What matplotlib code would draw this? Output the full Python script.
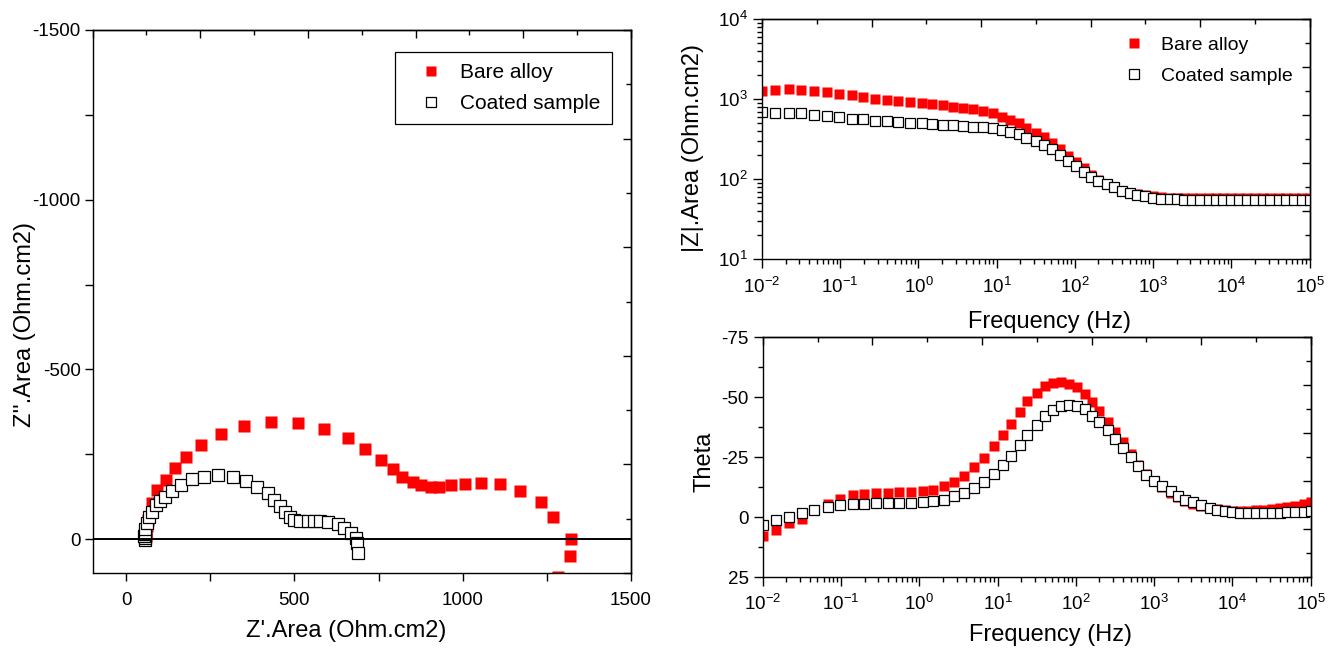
import matplotlib
matplotlib.use("Agg")
import matplotlib.pyplot as plt
from matplotlib.ticker import FixedLocator, MultipleLocator, LogLocator, NullFormatter

plt.rcParams["font.family"] = ["Liberation Sans", "DejaVu Sans"]
plt.rcParams["mathtext.fontset"] = "custom"
plt.rcParams["mathtext.rm"] = "Liberation Sans"
plt.rcParams["mathtext.default"] = "regular"
plt.rcParams["axes.unicode_minus"] = False

# ---------------- Nyquist data (Z' , Z'') ----------------
bare_zre = [56, 57, 58, 60, 62, 65, 77, 92, 119, 146, 179, 223, 283, 351, 431, 512,
            589, 658, 711, 756, 792, 821, 851, 875, 905, 931, 964, 1006, 1054, 1110,
            1170, 1232, 1268, 1321, 1318, 1283]
bare_zim = [4, -2, -10, -22, -38, -56, -106, -144, -174, -209, -242, -277, -309, -333, -345, -342,
            -324, -298, -265, -233, -206, -183, -168, -159, -153, -153, -159, -162, -165, -162,
            -141, -109, -65, 0, 50, 112]

coat_zre = [56, 55, 54, 55, 57, 62, 68, 77, 89, 101, 116, 137, 164, 196, 232, 274, 318,
            357, 390, 420, 440, 458, 473, 488, 500, 518, 539, 557, 577, 601, 628, 646,
            667, 682, 687, 690]
coat_zim = [4, -3, -9, -16, -29, -47, -65, -80, -100, -112, -124, -141, -159, -177, -183, -189,
            -183, -171, -153, -136, -115, -97, -80, -65, -56, -53, -53, -53, -53, -50, -44,
            -32, -18, -3, 12, 41]

# ---------------- Bode data ----------------
freq_hz = [0.0100, 0.0148, 0.0219, 0.0316, 0.0457, 0.0676, 0.0977, 0.141, 0.195, 0.282,
           0.398, 0.550, 0.776, 1.10, 1.51, 2.04, 2.75, 3.72, 5.01, 6.76, 8.91,
           11.7, 14.8, 19.1, 24.0, 31.6, 40.7, 51.3, 64.6, 81.3, 102, 129, 162, 200, 257,
           316, 398, 513, 631, 794, 1000, 1259, 1622, 1995, 2512, 3162, 3981, 5129, 6310,
           7943, 10000, 12589, 15849, 19953, 25119, 31623, 40738, 50119, 63096, 81283, 100000]

bare_modz = [1283, 1306, 1334, 1306, 1270, 1222, 1175, 1120, 1069, 1018, 971, 944, 917, 891,
             866, 841, 809, 786, 757, 714, 668, 607, 551, 501, 434, 383, 335, 287, 237, 196,
             166, 137, 114, 99, 88, 79, 72, 68, 65, 63, 61, 60, 59, 59, 59, 59, 59, 59, 59,
             59, 59, 59, 59, 59, 59, 59, 59, 59, 59, 59, 59]
coat_modz = [688, 681, 681, 668, 637, 618, 595, 573, 562, 541, 531, 520, 510, 501, 491, 482,
             473, 464, 455, 447, 438, 413, 394, 368, 333, 301, 268, 237, 201, 171, 147, 125,
             108, 96, 87, 79, 72, 67, 63, 61, 59, 57, 56, 56, 55, 55, 55, 55, 55, 55, 55, 55,
             55, 55, 55, 55, 55, 55, 55, 55, 55]

bare_theta = [7.9, 5.3, 2.5, 0.8, -3.1, -5.6, -7.5, -9.0, -9.7, -10.0, -10.0, -10.3, -10.4,
              -10.7, -11.4, -12.8, -14.4, -17.2, -20.7, -24.6, -29.4, -34.3, -38.9, -43.6,
              -48.2, -51.7, -54.4, -55.8, -56.3, -55.6, -54.2, -51.4, -47.8, -44.0, -39.4,
              -35.3, -31.1, -26.4, -21.8, -18.0, -15.0, -12.5, -10.2, -8.4, -6.8, -5.5, -4.6,
              -3.8, -3.2, -2.8, -2.6, -2.6, -2.6, -2.8, -2.9, -3.3, -3.8, -4.2, -4.7, -5.4, -6.1]
coat_theta = [3.5, 1.4, 0.0, -1.7, -3.1, -4.0, -4.9, -5.6, -5.6, -5.7, -5.7, -5.8, -5.8, -6.1,
              -6.5, -7.2, -8.6, -10.0, -12.1, -14.6, -18.1, -21.8, -25.6, -30.1, -34.3, -38.5,
              -42.2, -44.7, -46.4, -46.8, -46.4, -45.0, -42.2, -39.4, -36.1, -32.5, -28.8,
              -25.0, -21.1, -17.6, -14.9, -12.8, -10.7, -8.9, -7.2, -6.1, -4.9, -3.8, -3.1,
              -2.4, -1.9, -1.7, -1.5, -1.5, -1.5, -1.7, -1.8, -1.9, -2.1, -2.2, -2.4]

series_labels = ["Bare alloy", "Coated sample"]
nyq_xticks = [0, 500, 1000, 1500]
nyq_yticks = [-1500, -1000, -500, 0]
theta_ticks = [-75, -50, -25, 0, 25]

RED = "#ff0000"
TICK_FS = 13.5
LABEL_FS = 17
LEG_FS = 15

fig = plt.figure(figsize=(13.36, 6.5), dpi=100)
W, H = 1336.0, 650.0


def box(left, top, right, bottom):
    return [left / W, (H - bottom) / H, (right - left) / W, (bottom - top) / H]


def style_spines(ax):
    for s in ax.spines.values():
        s.set_linewidth(1.0)
        s.set_color("black")


def inner_ticks(ax, side, major, minor):
    """Inward ticks on the top/right frame lines, without labels."""
    if side == "top":
        sec = ax.secondary_xaxis("top")
        axis = sec.xaxis
    else:
        sec = ax.secondary_yaxis("right")
        axis = sec.yaxis
    axis.set_major_locator(FixedLocator(major))
    axis.set_minor_locator(FixedLocator(minor))
    axis.set_major_formatter(NullFormatter())
    axis.set_minor_formatter(NullFormatter())
    sec.tick_params(which="major", direction="in", length=6, width=1.0)
    sec.tick_params(which="minor", direction="in", length=3.5, width=1.0)
    for s in sec.spines.values():
        s.set_linewidth(1.0)
    return sec


# ---------------- Nyquist plot ----------------
ax_ny = fig.add_axes(box(92.5, 30, 631, 573))
ax_ny.plot(bare_zre, bare_zim, "s", color=RED, mec="none", ms=8.5, label=series_labels[0])
ax_ny.plot(coat_zre, coat_zim, "s", mfc="white", mec="black", mew=0.9, ms=8.3,
           label=series_labels[1])
ax_ny.axhline(0, color="black", lw=1.4, zorder=5)
ax_ny.set_xlim(-100, 1500)
ax_ny.set_ylim(100, -1500)
ax_ny.xaxis.set_major_locator(FixedLocator(nyq_xticks))
ax_ny.xaxis.set_minor_locator(FixedLocator([250, 750, 1250]))
ax_ny.yaxis.set_major_locator(FixedLocator(nyq_yticks))
ax_ny.yaxis.set_minor_locator(FixedLocator([-1250, -750, -250]))
ax_ny.tick_params(which="both", direction="out", length=6, width=1.0, labelsize=TICK_FS,
                  top=False, right=False)
ax_ny.tick_params(axis="x", which="both", pad=8)
ax_ny.tick_params(axis="y", which="both", pad=2.5)
ax_ny.set_xlabel("Z'.Area (Ohm.cm2)", fontsize=LABEL_FS)
ax_ny.set_ylabel("Z''.Area (Ohm.cm2)", fontsize=LABEL_FS)
ax_ny.xaxis.set_label_coords(0.471, -0.086)
ax_ny.yaxis.set_label_coords(-0.105, 0.457)
style_spines(ax_ny)
inner_ticks(ax_ny, "top", [-100 + 320 * k for k in range(6)], [60 + 320 * k for k in range(5)])
inner_ticks(ax_ny, "right", [100 - 320 * k for k in range(6)], [-60 - 320 * k for k in range(5)])
leg = ax_ny.legend(loc="upper right", bbox_to_anchor=(0.9647, 0.9595), frameon=True,
                   fancybox=False, edgecolor="black", framealpha=1, fontsize=LEG_FS,
                   markerscale=0.85, handlelength=2.3, handletextpad=0.27, borderpad=0.55,
                   labelspacing=0.55, borderaxespad=0)
leg.get_frame().set_linewidth(0.9)

# ---------------- |Z| vs frequency ----------------
ax_mod = fig.add_axes(box(762, 19.3, 1309.5, 259.3))
ax_mod.plot(freq_hz, bare_modz, "s", color=RED, mec="none", ms=7.8, label=series_labels[0])
ax_mod.plot(freq_hz, coat_modz, "s", mfc="white", mec="black", mew=0.9, ms=7.5,
            label=series_labels[1])
ax_mod.set_xscale("log")
ax_mod.set_yscale("log")
ax_mod.set_xlim(1e-2, 1e5)
ax_mod.set_ylim(1e1, 1e4)
for axis in (ax_mod.xaxis, ax_mod.yaxis):
    axis.set_major_locator(LogLocator(base=10, numticks=20))
    axis.set_minor_locator(LogLocator(base=10, subs=range(2, 10), numticks=20))
    axis.set_minor_formatter(NullFormatter())
ax_mod.tick_params(which="major", direction="out", length=6.5, width=1.0, labelsize=TICK_FS)
ax_mod.tick_params(which="minor", direction="out", length=3.5, width=1.0)
ax_mod.tick_params(axis="x", which="both", pad=6)
ax_mod.set_xlabel("Frequency (Hz)", fontsize=LABEL_FS)
ax_mod.set_ylabel("|Z|.Area (Ohm.cm2)", fontsize=LABEL_FS)
ax_mod.xaxis.set_label_coords(0.525, -0.215)
ax_mod.yaxis.set_label_coords(-0.106, 0.464)
style_spines(ax_mod)
inner_ticks(ax_mod, "top", [10 ** (-2 + 1.4 * k) for k in range(6)],
            [10 ** (-1.3 + 1.4 * k) for k in range(5)])
inner_ticks(ax_mod, "right", [10 ** (1 + 0.6 * k) for k in range(6)],
            [10 ** (1.3 + 0.6 * k) for k in range(5)])
ax_mod.legend(loc="upper right", bbox_to_anchor=(0.97, 0.928), frameon=False,
              fontsize=14, markerscale=0.9, handlelength=1.0, handletextpad=0.9,
              labelspacing=0.68, borderpad=0, borderaxespad=0)

# ---------------- Phase angle vs frequency ----------------
ax_ph = fig.add_axes(box(762.7, 337, 1310.7, 577))
ax_ph.plot(freq_hz, bare_theta, "s", color=RED, mec="none", ms=7.8)
ax_ph.plot(freq_hz, coat_theta, "s", mfc="white", mec="black", mew=0.9, ms=7.5)
ax_ph.set_xscale("log")
ax_ph.set_xlim(1e-2, 1e5)
ax_ph.set_ylim(25, -75)
ax_ph.xaxis.set_major_locator(LogLocator(base=10, numticks=20))
ax_ph.xaxis.set_minor_locator(LogLocator(base=10, subs=range(2, 10), numticks=20))
ax_ph.xaxis.set_minor_formatter(NullFormatter())
ax_ph.yaxis.set_major_locator(FixedLocator(theta_ticks))
ax_ph.yaxis.set_minor_locator(MultipleLocator(12.5))
ax_ph.tick_params(which="major", direction="out", length=6.5, width=1.0, labelsize=TICK_FS)
ax_ph.tick_params(which="minor", direction="out", length=3.5, width=1.0)
ax_ph.tick_params(axis="x", which="both", pad=6)
ax_ph.set_xlabel("Frequency (Hz)", fontsize=LABEL_FS)
ax_ph.set_ylabel("Theta", fontsize=LABEL_FS)
ax_ph.xaxis.set_label_coords(0.525, -0.195)
ax_ph.yaxis.set_label_coords(-0.087, 0.48)
style_spines(ax_ph)
inner_ticks(ax_ph, "top", [10 ** (-2 + 1.4 * k) for k in range(6)],
            [10 ** (-1.3 + 1.4 * k) for k in range(5)])
inner_ticks(ax_ph, "right", [25 - 20 * k for k in range(6)], [15 - 20 * k for k in range(5)])

fig.savefig("out.png", dpi=100)
